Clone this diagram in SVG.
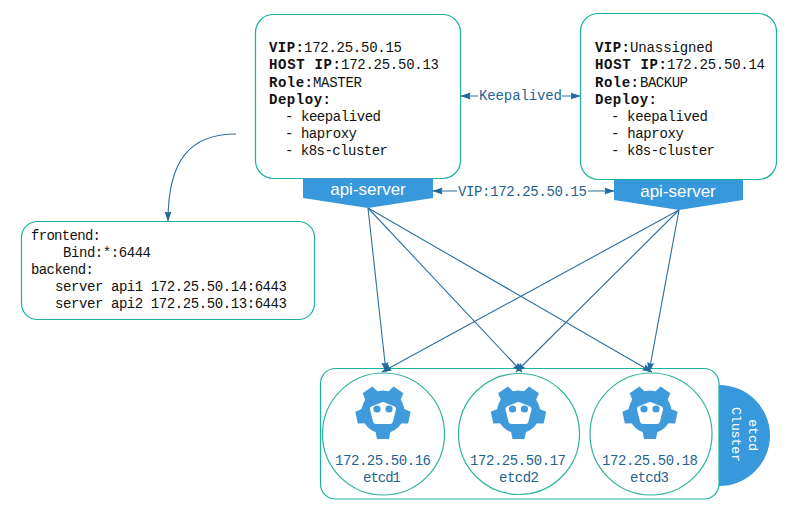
<svg xmlns="http://www.w3.org/2000/svg" xmlns:xlink="http://www.w3.org/1999/xlink" width="800" height="514" viewBox="0 0 800 514">
<style>
text{font-family:"Liberation Mono","DejaVu Sans Mono",monospace;font-size:14px;fill:#111}
.b{font-weight:bold}
.box{fill:#fff;stroke:#1ab3a0;stroke-width:1.2}
.circ{fill:#fff;stroke:#2fb39c;stroke-width:1.2}
.tag{fill:#3798dc;stroke:none}
.conn{fill:none;stroke:#2c6f9f;stroke-width:1.1;marker-end:url(#arr)}
.dbl{marker-start:url(#arr)}
.lbl{fill:#1f6391}
.api{font-family:"Liberation Sans",Arial,sans-serif;font-size:17px;fill:#fff;text-anchor:middle}
.cl{fill:#fff;font-size:13.5px}
.t{fill:#3f9bdc}
</style>
<defs>
<marker id="arr" viewBox="0 0 10 8" refX="9.500" refY="4" markerWidth="10" markerHeight="8" markerUnits="userSpaceOnUse" orient="auto-start-reverse">
<path d="M0 0.5L10 4L0 7.500L1 4Z" fill="#226a9c"/>
</marker>
<path id="tooth" d="M-6-27L6-27L8-17L-8-17Z"/>
<g id="gear">
<circle class="t" r="21.500"/>
<use href="#tooth" class="t" transform="rotate(-35)"/>
<use href="#tooth" class="t" transform="rotate(35)"/>
<use href="#tooth" class="t" transform="rotate(-102)"/>
<use href="#tooth" class="t" transform="rotate(102)"/>
<use href="#tooth" class="t" transform="rotate(180)"/>
<path fill="#fff" stroke="#fff" stroke-width="6" stroke-linejoin="round" d="M0-7L10-3L7 9L-7 9L-10-3Z"/>
<circle class="t" cx="-6" cy="-3" r="3.600"/>
<circle class="t" cx="6" cy="-3" r="3.600"/>
</g>
</defs>

<g id="cluster-tag"><path class="tag" d="M719 385A51 50.500 0 0 1 719 486Z"/>
<text class="cl" transform="translate(749 419) rotate(90)" textLength="32" lengthAdjust="spacing">etcd</text>
<text class="cl" transform="translate(732 407) rotate(90)" textLength="55" lengthAdjust="spacing">Cluster</text></g>
<g id="etcd-cluster"><rect class="box" x="320.500" y="368.500" width="398.500" height="130.500" rx="15"/></g>

<g id="etcd1"><circle class="circ" cx="383.500" cy="434" r="61"/><use href="#gear" x="383" y="412"/>
<text class="lbl" x="335" y="465" textLength="96" lengthAdjust="spacing">172.25.50.16</text><text class="lbl" x="363" y="482" textLength="38" lengthAdjust="spacing">etcd1</text></g>
<g id="etcd2"><circle class="circ" cx="519" cy="434" r="60.500"/><use href="#gear" x="518.500" y="412"/>
<text class="lbl" x="470" y="465" textLength="96" lengthAdjust="spacing">172.25.50.17</text><text class="lbl" x="499" y="482" textLength="40" lengthAdjust="spacing">etcd2</text></g>
<g id="etcd3"><circle class="circ" cx="651" cy="434" r="61"/><use href="#gear" x="650" y="412"/>
<text class="lbl" x="602" y="465" textLength="96" lengthAdjust="spacing">172.25.50.18</text><text class="lbl" x="630" y="482" textLength="39" lengthAdjust="spacing">etcd3</text></g>

<g id="connectors">
<path class="conn" d="M368 208L386 372"/>
<path class="conn" d="M368 208L522 372"/>
<path class="conn" d="M368 208L652 372"/>
<path class="conn" d="M679 210L382 372"/>
<path class="conn" d="M679 210L516 372"/>
<path class="conn" d="M679 210L649 372"/>
<path class="conn" d="M236 134C190 134 168 160 168 221"/>
<path class="conn dbl" d="M461 96L580 96"/>
<path class="conn dbl" d="M433 191L614 191"/>
</g>

<g id="master"><rect class="box" x="255.500" y="14.500" width="205" height="164" rx="18"/>
<text class="b" x="269" y="52" textLength="35" lengthAdjust="spacing">VIP:</text><text x="304" y="52" textLength="98" lengthAdjust="spacing">172.25.50.15</text>
<text class="b" x="269" y="69" textLength="72" lengthAdjust="spacing">HOST IP:</text><text x="341" y="69" textLength="98" lengthAdjust="spacing">172.25.50.13</text>
<text class="b" x="269" y="87" textLength="44" lengthAdjust="spacing">Role:</text><text x="313" y="87" textLength="49" lengthAdjust="spacing">MASTER</text>
<text class="b" x="269" y="104" textLength="62" lengthAdjust="spacing">Deploy:</text>
<text x="285" y="121" textLength="96" lengthAdjust="spacing">- keepalived</text>
<text x="285" y="138" textLength="72" lengthAdjust="spacing">- haproxy</text>
<text x="285" y="155" textLength="103" lengthAdjust="spacing">- k8s-cluster</text></g>

<g id="backup"><rect class="box" x="580.500" y="13.500" width="196" height="166" rx="18"/>
<text class="b" x="595" y="52" textLength="35" lengthAdjust="spacing">VIP:</text><text x="630" y="52" textLength="83" lengthAdjust="spacing">Unassigned</text>
<text class="b" x="595" y="69" textLength="72" lengthAdjust="spacing">HOST IP:</text><text x="667" y="69" textLength="98" lengthAdjust="spacing">172.25.50.14</text>
<text class="b" x="595" y="87" textLength="44" lengthAdjust="spacing">Role:</text><text x="640" y="87" textLength="48" lengthAdjust="spacing">BACKUP</text>
<text class="b" x="595" y="104" textLength="62" lengthAdjust="spacing">Deploy:</text>
<text x="611" y="121" textLength="97" lengthAdjust="spacing">- keepalived</text>
<text x="611" y="138" textLength="73" lengthAdjust="spacing">- haproxy</text>
<text x="611" y="155" textLength="104" lengthAdjust="spacing">- k8s-cluster</text></g>

<g id="api-server-1"><path class="tag" d="M303 178L433 178L433 198L368 208L303 198Z"/><text class="api" x="368" y="195">api-server</text></g>
<g id="api-server-2"><path class="tag" d="M614 180L743 180L743 200L679 210L614 200Z"/><text class="api" x="678" y="197">api-server</text></g>

<g id="haproxy-config"><rect class="box" x="21.500" y="221.500" width="293" height="98" rx="16"/>
<text x="31" y="240" textLength="70" lengthAdjust="spacing">frontend:</text>
<text x="63" y="257" textLength="88" lengthAdjust="spacing">Bind:*:6444</text>
<text x="31" y="274" textLength="63" lengthAdjust="spacing">backend:</text>
<text x="55" y="291" textLength="232" lengthAdjust="spacing">server api1 172.25.50.14:6443</text>
<text x="55" y="308" textLength="232" lengthAdjust="spacing">server api2 172.25.50.13:6443</text></g>

<g id="labels">
<rect x="478" y="88" width="84" height="16" fill="#fff"/>
<text class="lbl" x="479" y="100" textLength="83" lengthAdjust="spacing">Keepalived</text>
<rect x="457" y="183" width="131" height="16" fill="#fff"/>
<text class="lbl" x="458" y="196" textLength="129" lengthAdjust="spacing">VIP:172.25.50.15</text>
</g>
</svg>
